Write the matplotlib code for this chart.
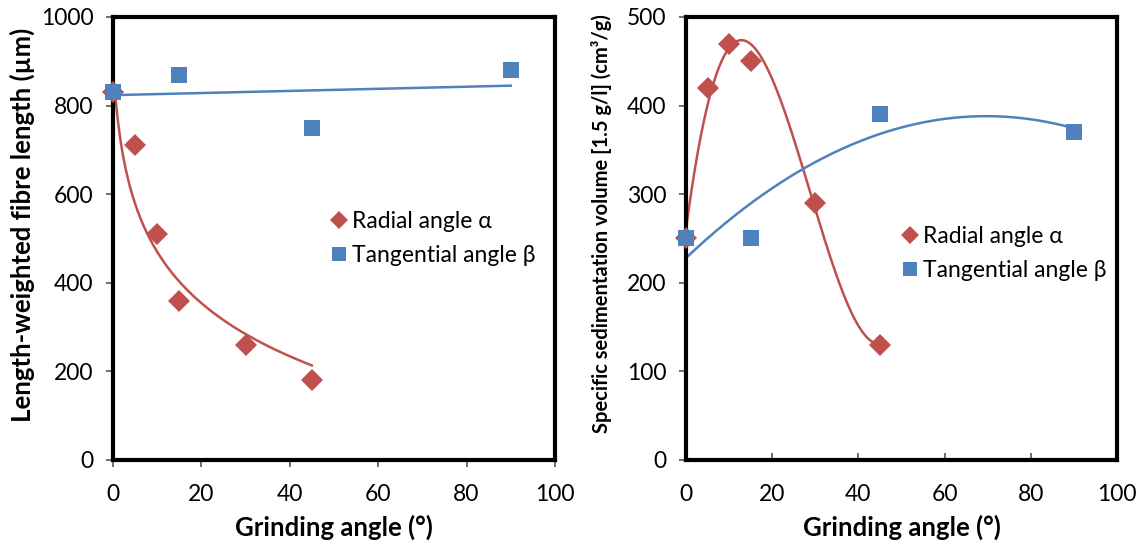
import numpy as np
import matplotlib.pyplot as plt
from matplotlib.lines import Line2D

plt.rcParams['font.family'] = ['Lato', 'DejaVu Sans']

# data
angle_radial = [0, 5, 10, 15, 30, 45]
angle_tang = [0, 15, 45, 90]

fibre_radial = [830, 710, 510, 360, 260, 180]
fibre_tang = [830, 870, 750, 880]

sed_radial = [250, 420, 470, 450, 290, 130]
sed_tang = [250, 250, 390, 370]

red = '#C0504D'
blue = '#4F81BD'

fig = plt.figure(figsize=(11.42, 5.43), dpi=100)
ax1 = fig.add_axes([0.0989, 0.1529, 0.3870, 0.8158])
ax2 = fig.add_axes([0.6007, 0.1529, 0.3774, 0.8158])


def style(ax, ymax, xdir):
    ax.set_xlim(0, 100)
    ax.set_ylim(0, ymax)
    ax.set_xticks(range(0, 101, 20))
    for s in ax.spines.values():
        s.set_linewidth(3)
        s.set_color('black')
    ax.tick_params(axis='y', direction='out', length=5, width=1.2, color='#555555',
                   labelsize=16.5, pad=9)
    ax.tick_params(axis='x', direction=xdir, length=5, width=1.2, color='#555555',
                   labelsize=16.5, pad=(12 if xdir == 'out' else 17))
    ax.set_xlabel('Grinding angle (°)', fontsize=18.5, fontweight='bold')
    ax.xaxis.label.set_va('center')
    ax.xaxis.set_label_coords(0.5, -0.152)


# left panel: fibre length
style(ax1, 1000, 'out')
ax1.set_yticks(range(0, 1001, 200))
xx = np.linspace(0.5, 45, 200)
c = np.polyfit(np.log(np.array(angle_radial) + 1), fibre_radial, 1)
ax1.plot(xx, np.polyval(c, np.log(xx + 1)), color=red, lw=1.8, zorder=2)
xl = np.linspace(0, 90, 50)
c = np.polyfit(angle_tang, fibre_tang, 1)
ax1.plot(xl, np.polyval(c, xl), color=blue, lw=1.8, zorder=2)
ax1.plot(angle_radial, fibre_radial, 'D', color=red, ms=11, mew=0, zorder=3, clip_on=False)
ax1.plot(angle_tang, fibre_tang, 's', color=blue, ms=12, mew=0, zorder=4, clip_on=False)
ax1.set_ylabel('Length-weighted fibre length (µm)', fontsize=18.5, fontweight='bold')
ax1.yaxis.label.set_va('center')
ax1.yaxis.set_label_coords(-0.206, 0.53)

# right panel: sedimentation volume
style(ax2, 500, 'in')
ax2.set_yticks(range(0, 501, 100))
xx = np.linspace(0, 45, 200)
c = np.polyfit(angle_radial, sed_radial, 3)
ax2.plot(xx, np.polyval(c, xx), color=red, lw=1.8, zorder=2)
xq = np.linspace(0, 90, 200)
c = np.polyfit(angle_tang, sed_tang, 2)
ax2.plot(xq, np.polyval(c, xq), color=blue, lw=1.8, zorder=2)
ax2.plot(angle_radial, sed_radial, 'D', color=red, ms=11, mew=0, zorder=3, clip_on=False)
ax2.plot(angle_tang, sed_tang, 's', color=blue, ms=12, mew=0, zorder=4, clip_on=False)
ax2.set_ylabel('Specific sedimentation volume [1.5 g/l] (cm³/g)', fontsize=14.5, fontweight='bold')
ax2.yaxis.label.set_va('center')
ax2.yaxis.set_label_coords(-0.197, 0.533)

handles = [Line2D([], [], ls='', marker='D', color=red, ms=9, mew=0),
           Line2D([], [], ls='', marker='s', color=blue, ms=10, mew=0)]
labels = ['Radial angle α', 'Tangential angle β']
ax1.legend(handles, labels, loc='center left', bbox_to_anchor=(0.47, 0.50), frameon=False,
           fontsize=16.5, handlelength=0.6, handletextpad=0.25, labelspacing=0.55, borderpad=0)
ax2.legend(handles, labels, loc='center left', bbox_to_anchor=(0.478, 0.466), frameon=False,
           fontsize=16.5, handlelength=0.6, handletextpad=0.25, labelspacing=0.55, borderpad=0)

fig.savefig('out.png', dpi=100)
